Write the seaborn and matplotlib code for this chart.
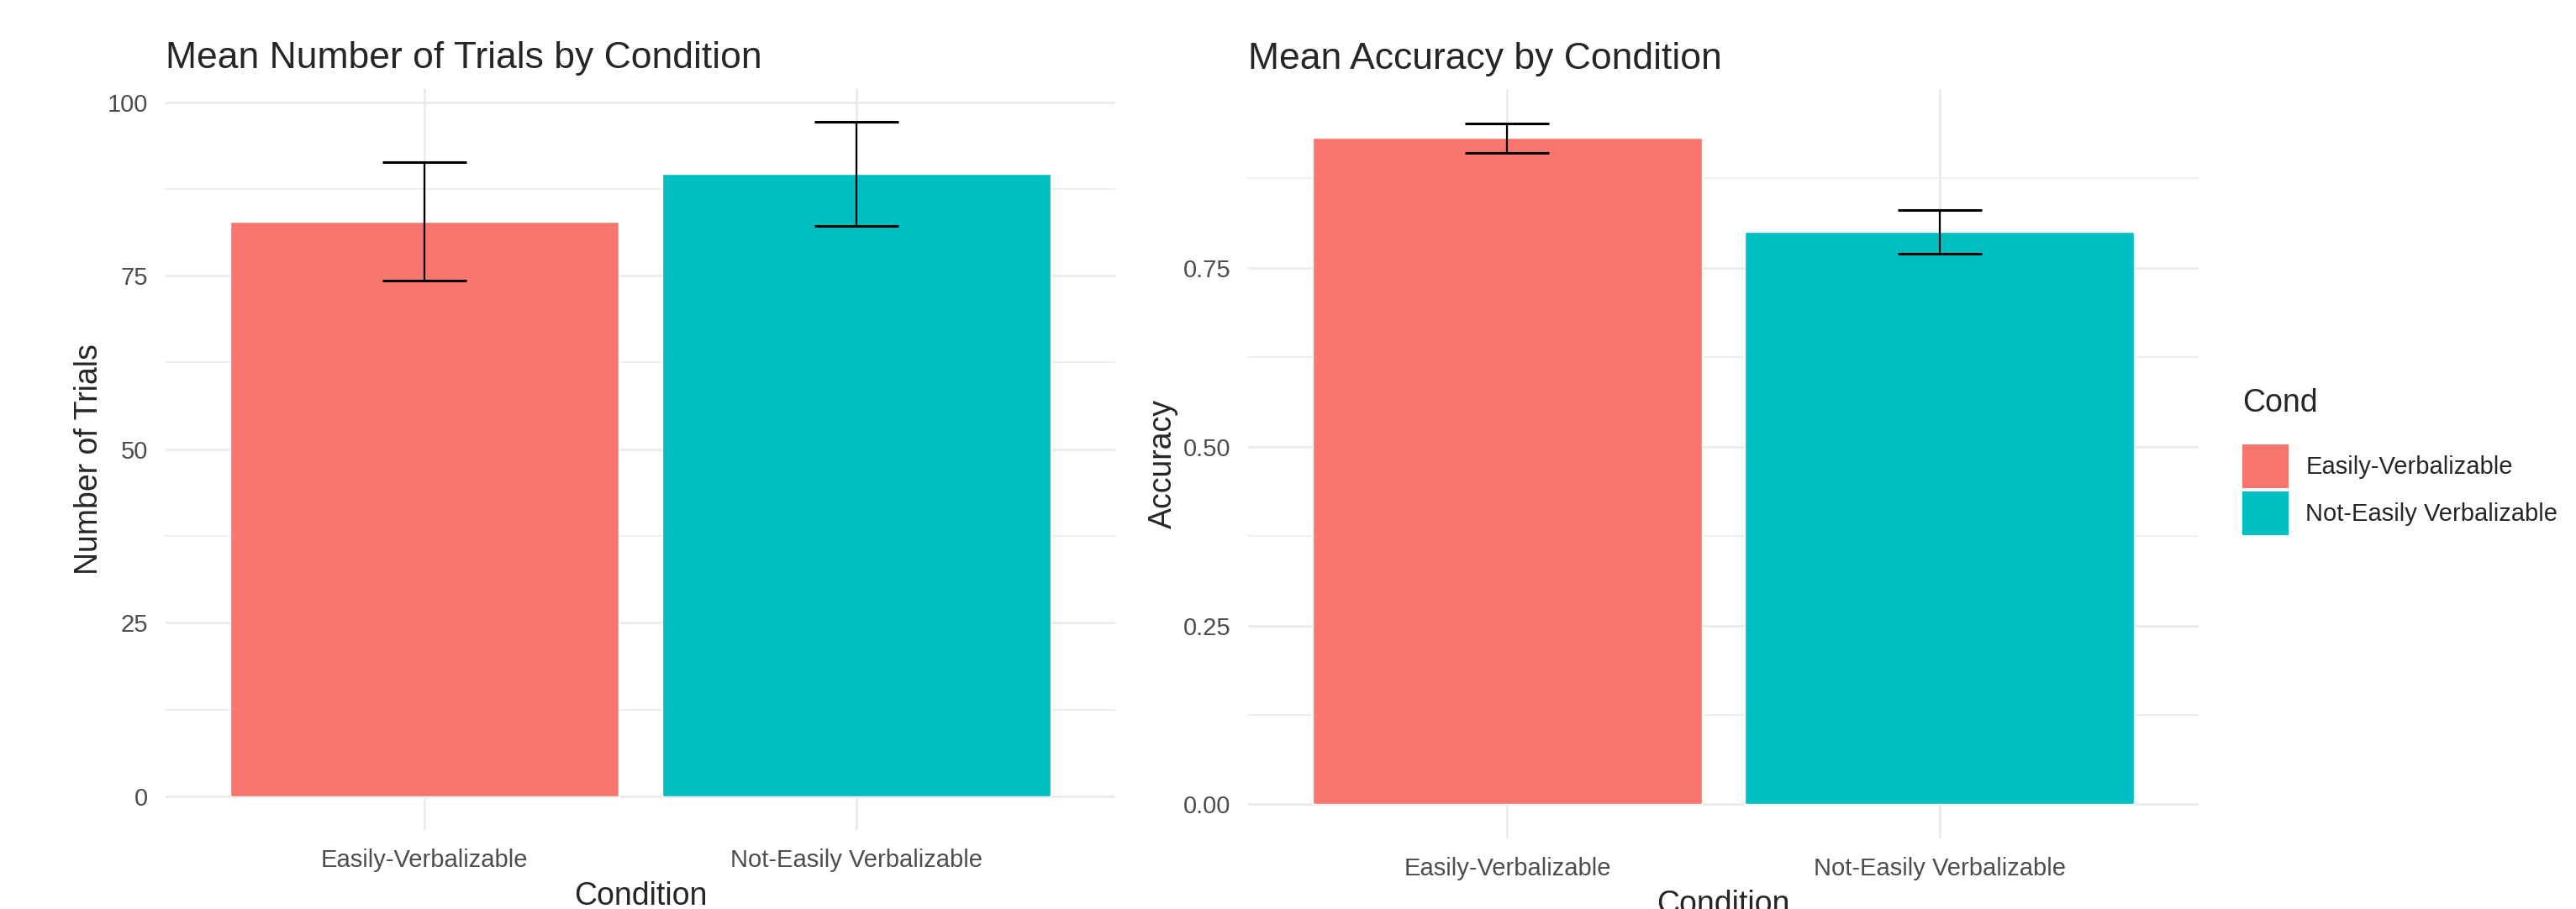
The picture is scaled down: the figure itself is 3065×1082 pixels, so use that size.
import numpy as np
import pandas as pd
import seaborn as sns
import matplotlib.pyplot as plt
from matplotlib.patches import Patch
from matplotlib.ticker import FixedLocator

conditions = ["Easily-Verbalizable", "Not-Easily Verbalizable"]
trials_mean = [82.8, 89.65]
trials_se = [8.5, 7.5]
acc_mean = [0.931, 0.800]
acc_se = [0.021, 0.031]

palette = ["#F8766D", "#00BFC4"]

sns.set_style("white")
plt.rcParams['font.family'] = ['Liberation Sans', 'DejaVu Sans']

fig = plt.figure(figsize=(30.65, 10.82), dpi=100)
ax1 = fig.add_axes([0.0643, 0.0869, 0.3687, 0.8161])
ax2 = fig.add_axes([0.4845, 0.0776, 0.3690, 0.8244])


def panel(ax, means, se, title, ylabel, major, minor, fmt, ylabpad):
    df = pd.DataFrame({"Cond": conditions, "val": means})
    sns.barplot(data=df, x="Cond", y="val", hue="Cond", palette=palette,
                width=0.9, saturation=1, legend=False, errorbar=None, ax=ax,
                zorder=2)
    ax.errorbar(x=np.arange(len(conditions)), y=means, yerr=se, fmt="none",
                ecolor="black", elinewidth=1.6, capsize=36, capthick=2.2,
                zorder=3)
    # ggplot style 5% expansion
    hi = max(m + s for m, s in zip(means, se))
    pad = 0.05 * hi
    ax.set_ylim(-pad, hi + pad)
    ax.set_xlim(-0.6, len(conditions) - 0.4)
    ax.yaxis.set_major_locator(FixedLocator(major))
    ax.yaxis.set_minor_locator(FixedLocator(minor))
    ax.set_yticklabels([fmt.format(v) for v in major])
    ax.grid(which="major", axis="both", color="#EBEBEB", linewidth=2.0, zorder=0)
    ax.grid(which="minor", axis="y", color="#EFEFEF", linewidth=1.4, zorder=0)
    ax.set_axisbelow(True)
    for s in ax.spines.values():
        s.set_visible(False)
    ax.tick_params(axis="both", which="both", length=0, labelsize=21,
                   labelcolor="#4D4D4D")
    ax.tick_params(axis="y", pad=15)
    ax.tick_params(axis="x", pad=15.5)
    ax.set_title(title, loc="left", fontsize=32, pad=17)
    ax.set_xlabel("Condition", fontsize=27, labelpad=8)
    ax.set_ylabel(ylabel, fontsize=27, labelpad=ylabpad)


panel(ax1, trials_mean, trials_se, "Mean Number of Trials by Condition",
      "Number of Trials", [0, 25, 50, 75, 100], [12.5, 37.5, 62.5, 87.5], "{:.0f}", 2.5)
panel(ax2, acc_mean, acc_se, "Mean Accuracy by Condition",
      "Accuracy", [0, 0.25, 0.5, 0.75], [0.125, 0.375, 0.625, 0.875], "{:.2f}", 4)

handles = [Patch(facecolor=c, edgecolor="none") for c in palette]
leg = fig.legend(handles, conditions, title="Cond", loc="upper left",
                 bbox_to_anchor=(2668 / 3065, 1 - 462 / 1082), frameon=False,
                 fontsize=21, title_fontsize=27, borderpad=0, borderaxespad=0,
                 handlelength=1.88, handleheight=2.4, labelspacing=0.12,
                 handletextpad=0.7)
leg._legend_box.align = "left"
leg._legend_box.sep = 22

fig.savefig("out.png", dpi=100)
